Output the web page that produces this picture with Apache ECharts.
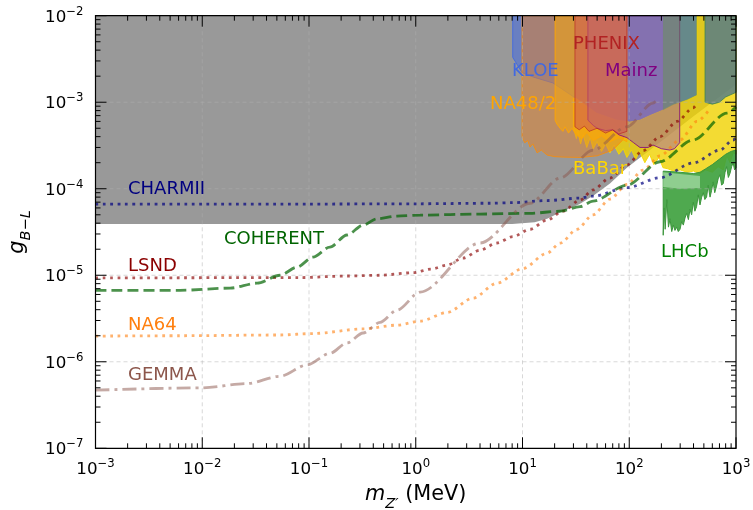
<!DOCTYPE html>
<html><head><meta charset="utf-8">
<script src="https://cdn.jsdelivr.net/npm/echarts@6/dist/echarts.min.js"></script>
<style>html,body{margin:0;padding:0;background:#fff}#c{width:753px;height:510px}</style>
</head><body><div id="c"></div>
<script>
// ---------- axis / tick values ----------
const X_TICKS = [1e-3, 1e-2, 1e-1, 1, 10, 100, 1000];
const Y_TICKS = [1e-7, 1e-6, 1e-5, 1e-4, 1e-3, 1e-2];
const X_MIN = 1e-3, X_MAX = 1e3, Y_MIN = 1e-7, Y_MAX = 1e-2;

// ---------- shaded exclusion regions (lower boundaries, [m_Z' MeV, g]) ----------
const OTHER_BOUND = [[1e-3,3.9e-5],[8,3.9e-5],[13,4.1e-5],[17,4.5e-5],[22.5,5.3e-5],[34,6.6e-5],[46,8.3e-5],[66,1.15e-4],[95,1.75e-4],[207,3.66e-4],[400,6.9e-4],[1000,1.6e-3]];
const KLOE_BOUND = [[8.1,3.3e-3],[9.9,2.2e-3],[12.7,1.95e-3],[19.3,1.67e-3],[31.6,1.11e-3],[49.4,7.45e-4],[76,6.2e-4],[101,5.9e-4],[126,6.2e-4],[156,7.0e-4],[207,8.1e-4],[257,9.3e-4],[348,1.06e-3],[431,1.2e-3]];
const NA48A_BOUND = [[9.9,3.96e-4],[10.5,3.4e-4],[11.2,3.6e-4],[11.75,3.03e-4],[12.5,3.3e-4],[13.7,2.6e-4],[15,2.8e-4],[17,2.45e-4],[20,2.35e-4],[24,2.32e-4],[35,2.3e-4],[50,2.4e-4],[70,2.8e-4],[87,3.66e-4],[95,5.2e-4]];
const NA48B_BOUND = [[20.2,6.2e-4],[21,5.6e-4],[22.5,5.0e-4],[23.9,4.6e-4],[25,5.2e-4],[27,4.4e-4],[29,5.0e-4],[32,4.2e-4],[36,3.8e-4],[40,4.5e-4],[46,3.6e-4],[55,4.1e-4],[66,3.5e-4],[80,3.9e-4],[95,3.5e-4]];
const PHENIX_BOUND = [[31,5.2e-4],[34,4.8e-4],[38,5.3e-4],[42,4.6e-4],[50,5.0e-4],[60,4.4e-4],[70,4.8e-4],[80,4.3e-4],[95,4.6e-4]];
const MAINZ_BOUND = [[41,6.2e-4],[46,5.4e-4],[50,5.0e-4],[60,4.7e-4],[70,4.8e-4],[80,4.2e-4],[95,3.9e-4],[110,3.4e-4],[126,3.0e-4],[150,3.0e-4],[167,3.2e-4],[200,2.9e-4],[240,2.8e-4],[265,2.9e-4],[297,3.4e-4]];
const BABAR_BOUND = [[30,5.0e-4],[32,3.8e-4],[33,4.6e-4],[35,3.3e-4],[37,4.2e-4],[40,3.0e-4],[43,3.9e-4],[46,2.9e-4],[50,3.5e-4],[55,2.7e-4],[60,3.3e-4],[66,2.6e-4],[72,3.2e-4],[80,2.5e-4],[88,2.9e-4],[95,2.3e-4],[105,2.8e-4],[115,2.2e-4],[125,2.7e-4],[140,2.0e-4],[155,2.5e-4],[170,1.9e-4],[190,2.3e-4],[207,1.75e-4],[230,1.7e-4],[260,1.6e-4],[300,1.65e-4],[350,1.55e-4],[400,1.6e-4],[460,1.5e-4],[520,1.65e-4],[600,1.55e-4],[680,1.8e-4],[760,1.65e-4],[820,2.4e-4],[880,2.0e-4],[940,2.6e-4],[1000,2.5e-4]];
const LHCB_LOWER = [[208,2.9e-5],[212,6.0e-5],[217,3.4e-5],[225,7.5e-5],[233,3.6e-5],[241,4.5e-5],[250,3.2e-5],[259,3.8e-5],[268,3.3e-5],[278,3.6e-5],[288,3.2e-5],[299,3.4e-5],[310,4.2e-5],[321,3.8e-5],[333,4.6e-5],[345,5.2e-5],[358,4.4e-5],[371,5.8e-5],[384,5.0e-5],[398,7.0e-5],[412,5.5e-5],[427,6.2e-5],[443,8.5e-5],[460,6.5e-5],[477,8.0e-5],[494,9.0e-5],[511,7.5e-5],[530,8.0e-5],[549,1.1e-4],[571,8.0e-5],[590,9.5e-5],[611,1.2e-4],[632,9.0e-5],[654,1.05e-4],[680,1.3e-4],[708,1.45e-4],[733,1.1e-4],[760,1.15e-4],[790,1.55e-4],[817,1.8e-4],[848,1.35e-4],[878,1.5e-4],[910,1.8e-4],[940,2.0e-4],[970,1.65e-4],[1000,1.75e-4]];
const LHCB_UPPER = [[208,1.6e-4],[300,1.55e-4],[400,1.5e-4],[460,1.55e-4],[520,1.7e-4],[600,1.9e-4],[700,2.2e-4],[800,2.5e-4],[900,2.7e-4],[1000,2.8e-4]];
const LHCB_LIGHT_TOP = [[208,1.55e-4],[300,1.48e-4],[460,1.4e-4]];
const LHCB_LIGHT_BOTTOM = [[208,1.05e-4],[300,1.0e-4],[460,1.02e-4]];
const BAND_BOUND = [[513,1.0e-3],[600,9.5e-4],[700,1.0e-3],[800,1.15e-3],[1000,1.3e-3]];

// ---------- limit curves ----------
const CHARMII = [[1e-3,6.65e-5],[1e-2,6.65e-5],[0.1,6.65e-5],[1,6.7e-5],[5,6.8e-5],[8.1,6.9e-5],[17,7.3e-5],[34.6,7.8e-5],[45.8,8.2e-5],[95,1.03e-4],[194,1.34e-4],[396,1.98e-4],[708,2.8e-4],[938,3.66e-4],[1000,3.9e-4]];
const LSND = [[1e-3,9.3e-6],[0.08,9.4e-6],[0.23,9.8e-6],[0.46,1.0e-5],[0.94,1.07e-5],[1.4,1.18e-5],[1.96,1.31e-5],[2.77,1.58e-5],[4.0,1.95e-5],[5.77,2.36e-5],[8.14,2.8e-5],[11.75,3.4e-5],[17,4.35e-5],[23.9,5.5e-5],[34.6,7.4e-5],[45.8,9.7e-5],[66,1.33e-4],[95,1.88e-4],[134.5,2.75e-4],[194,4.0e-4],[280,6.0e-4],[396,8.6e-4],[431,9.6e-4]];
const COHERENT = [[1e-3,6.7e-6],[6.2e-3,6.7e-6],[0.0182,7.1e-6],[0.0326,8.1e-6],[0.0535,1.0e-5],[0.0772,1.24e-5],[0.109,1.62e-5],[0.157,2.12e-5],[0.227,2.92e-5],[0.321,3.8e-5],[0.434,4.5e-5],[0.667,4.83e-5],[1.1,4.96e-5],[4.0,5.1e-5],[11.75,5.2e-5],[22.5,5.5e-5],[34.6,6.2e-5],[45.8,7.2e-5],[95,1.1e-4],[194,2.05e-4],[396,3.66e-4],[824,7.5e-4],[1000,8.8e-4]];
const NA64 = [[1e-3,1.98e-6],[6.2e-3,2.0e-6],[0.0535,2.04e-6],[0.109,2.12e-6],[0.321,2.4e-6],[0.667,2.65e-6],[1.1,2.95e-6],[1.96,3.7e-6],[3.44,5.45e-6],[5.77,8.1e-6],[10.1,1.2e-5],[17,1.8e-5],[22.5,2.35e-5],[32.4,3.4e-5],[45.8,5.0e-5],[66,7.6e-5],[95,1.12e-4],[134.5,1.64e-4],[194,2.4e-4],[299,3.66e-4],[431,6.0e-4],[571,8.4e-4]];
const GEMMA = [[1e-3,4.7e-7],[0.01,5.0e-7],[0.0262,5.6e-7],[0.0535,6.8e-7],[0.0958,9.2e-7],[0.157,1.25e-6],[0.227,1.65e-6],[0.321,2.15e-6],[0.463,2.85e-6],[0.667,3.95e-6],[1.1,6.4e-6],[4.0,2.36e-5],[11.75,6.8e-5],[22.5,1.33e-4],[45.8,2.8e-4],[95,5.2e-4],[167,9.8e-4],[185,1.08e-3]];

// ---------- helpers ----------
function toTop(bound) {
  return [[bound[0][0], Y_MAX]].concat(bound, [[bound[bound.length - 1][0], Y_MAX]]);
}
function region(name, pts, fill, stroke, z) {
  return {
    type: 'custom', name: name, coordinateSystem: 'cartesian2d', silent: true, z: z,
    data: pts, encode: { x: 0, y: 1 },
    renderItem: function (params, api) {
      if (params.dataIndex !== 0) return null;
      return { type: 'polygon', shape: { points: pts.map(function (p) { return api.coord(p); }) },
        style: { fill: fill, stroke: stroke || null, lineWidth: 1 } };
    }
  };
}
function curve(name, pts, color, dash, z) {
  return { type: 'line', name: name, data: pts, showSymbol: false, symbol: 'none', silent: true, z: z,
    smooth: 0.3, smoothMonotone: 'x', clip: true,
    lineStyle: { color: color, width: 2.8, type: dash, cap: 'butt' } };
}
function powLabel(v) {
  const e = Math.round(Math.log10(v));
  return '{b|10}{s|' + (e < 0 ? '\u2212' : '') + Math.abs(e) + '}';
}
const FONT = 'DejaVu Sans';
const tickRich = {
  b: { fontSize: 16.7, fontFamily: FONT, color: '#000', verticalAlign: 'bottom' },
  s: { fontSize: 11.7, fontFamily: FONT, color: '#000', verticalAlign: 'bottom', padding: [0, 0, 8, 0] }
};
function minorVals(lo, hi) {
  const out = [];
  for (let k = lo; k < hi; k++) for (let d = 2; d <= 9; d++) out.push(d * Math.pow(10, k));
  return out;
}

// polygons
const kloePoly = toTop(KLOE_BOUND);
const babarUpper = KLOE_BOUND.filter(function (p) { return p[0] >= 30; }).slice().reverse();
const babarPoly = [[30, babarUpper[babarUpper.length - 1][1]]].concat(BABAR_BOUND, [[1000, Y_MAX], [431, Y_MAX]], babarUpper);
const lhcbPoly = LHCB_UPPER.slice().reverse().concat(LHCB_LOWER);
const lhcbLightPoly = LHCB_LIGHT_TOP.concat(LHCB_LIGHT_BOTTOM.slice().reverse());
const band1Poly = toTop(KLOE_BOUND.filter(function (p) { return p[0] >= 207; }));

const series = [
  region('other', toTop(OTHER_BOUND), '#999999', null, 1),
  region('KLOE', kloePoly, 'rgba(65,105,225,0.55)', 'rgba(65,105,225,0.9)', 2),
  region('BaBar', babarPoly, 'rgba(240,210,0,0.8)', 'rgba(245,215,0,0.9)', 3),
  region('LHCb', lhcbPoly, 'rgba(60,160,60,0.9)', 'rgba(60,150,60,1)', 3.2),
  region('LHCbLight', lhcbLightPoly, 'rgba(150,210,150,0.9)', null, 3.3),
  region('NA48A', toTop(NA48A_BOUND), 'rgba(230,130,40,0.5)', 'rgba(255,140,0,0.8)', 4),
  region('NA48B', toTop(NA48B_BOUND), 'rgba(255,170,0,0.5)', 'rgba(255,165,0,0.9)', 4.1),
  region('Mainz', toTop(MAINZ_BOUND), 'rgba(160,100,160,0.5)', 'rgba(128,0,128,0.8)', 4.5),
  region('PHENIX', toTop(PHENIX_BOUND), 'rgba(210,95,80,0.6)', 'rgba(178,34,34,0.6)', 5),
  region('band1', band1Poly, 'rgba(100,150,70,0.45)', null, 5.2),
  region('band2', toTop(BAND_BOUND), 'rgba(80,120,140,0.8)', 'rgba(60,130,80,0.8)', 5.3),
  {
    type: 'custom', coordinateSystem: 'cartesian2d', silent: true, z: 6, data: [[1, 1e-4]], encode: { x: 0, y: 1 },
    renderItem: function (params, api) {
      const bl = api.coord([X_MIN, Y_MIN]), tr = api.coord([X_MAX, Y_MAX]);
      const st = { stroke: 'rgba(176,176,176,0.55)', lineWidth: 0.9, lineDash: [4, 3] };
      const ch = [];
      X_TICKS.slice(1, -1).forEach(function (v) { const p = api.coord([v, Y_MIN]);
        ch.push({ type: 'line', shape: { x1: p[0], y1: bl[1], x2: p[0], y2: tr[1] }, style: st }); });
      Y_TICKS.slice(1, -1).forEach(function (v) { const p = api.coord([X_MIN, v]);
        ch.push({ type: 'line', shape: { x1: bl[0], y1: p[1], x2: tr[0], y2: p[1] }, style: st }); });
      return { type: 'group', children: ch };
    }
  },
  curve('CHARMII', CHARMII, 'rgba(0,0,128,0.7)', [2.8, 4.6], 7),
  curve('LSND', LSND, 'rgba(139,0,0,0.65)', [2.8, 4.6], 7),
  curve('NA64', NA64, 'rgba(255,127,14,0.6)', [2.8, 4.6], 7),
  curve('COHERENT', COHERENT, 'rgba(0,100,0,0.7)', [11, 5], 7),
  curve('GEMMA', GEMMA, 'rgba(140,86,75,0.5)', [14, 5, 3, 5], 7),
  {
    type: 'custom', coordinateSystem: 'cartesian2d', silent: true, z: 20, data: [[1, 1e-4]], encode: { x: 0, y: 1 },
    renderItem: function (params, api) {
      const bl = api.coord([X_MIN, Y_MIN]), tr = api.coord([X_MAX, Y_MAX]);
      const ch = [];
      const st = { stroke: '#000', lineWidth: 1 };
      function xt(v, len) { const p = api.coord([v, Y_MIN]);
        ch.push({ type: 'line', shape: { x1: p[0], y1: bl[1], x2: p[0], y2: bl[1] - len }, style: st });
        ch.push({ type: 'line', shape: { x1: p[0], y1: tr[1], x2: p[0], y2: tr[1] + len }, style: st }); }
      function yt(v, len) { const p = api.coord([X_MIN, v]);
        ch.push({ type: 'line', shape: { x1: bl[0], y1: p[1], x2: bl[0] + len, y2: p[1] }, style: st });
        ch.push({ type: 'line', shape: { x1: tr[0], y1: p[1], x2: tr[0] - len, y2: p[1] }, style: st }); }
      X_TICKS.forEach(function (v) { xt(v, 11); });
      Y_TICKS.forEach(function (v) { yt(v, 11); });
      minorVals(-3, 3).forEach(function (v) { xt(v, 5); });
      minorVals(-7, -2).forEach(function (v) { yt(v, 5); });
      ch.push({ type: 'rect', shape: { x: bl[0], y: tr[1], width: tr[0] - bl[0], height: bl[1] - tr[1] },
        style: { fill: null, stroke: '#000', lineWidth: 1.2 } });
      return { type: 'group', children: ch };
    }
  }
];

function lbl(text, x, y, color) {
  return { type: 'text', x: x, y: y, z: 30, silent: true,
    style: { text: text, fill: color, font: '18px "DejaVu Sans"', align: 'left', verticalAlign: 'middle' } };
}

const option = {
  animation: false,
  backgroundColor: '#fff',
  grid: { left: 95.5, right: 17, top: 15.7, bottom: 61.7, containLabel: false, outerBoundsMode: 'none' },
  xAxis: {
    type: 'log', logBase: 10, min: X_MIN, max: X_MAX, splitNumber: 6,
    axisLine: { show: false }, axisTick: { show: false }, splitLine: { show: false }, minorTick: { show: false },
    axisLabel: { formatter: powLabel, rich: tickRich, margin: 10, color: '#000', showMinLabel: true, showMaxLabel: true },
    name: '{i|m}{s|Z\u2032}{n| (MeV)}', nameLocation: 'middle', nameGap: 36,
    nameTextStyle: { color: '#000', rich: {
      i: { fontSize: 20.8, fontStyle: 'italic', fontFamily: FONT, color: '#000', verticalAlign: 'bottom', padding: [0, 0, 6, 0] },
      s: { fontSize: 14.6, fontStyle: 'italic', fontFamily: FONT, color: '#000', verticalAlign: 'bottom' },
      n: { fontSize: 20.8, fontFamily: FONT, color: '#000', verticalAlign: 'bottom', padding: [0, 0, 6, 0] } } }
  },
  yAxis: {
    type: 'log', logBase: 10, min: Y_MIN, max: Y_MAX, splitNumber: 5,
    axisLine: { show: false }, axisTick: { show: false }, splitLine: { show: false }, minorTick: { show: false },
    axisLabel: { formatter: powLabel, rich: tickRich, margin: 12, color: '#000', showMinLabel: true, showMaxLabel: true },
    name: '{i|g}{s|B\u2212L}', nameLocation: 'middle', nameGap: 58, nameRotate: 90,
    nameTextStyle: { color: '#000', rich: {
      i: { fontSize: 20.8, fontStyle: 'italic', fontFamily: FONT, color: '#000', verticalAlign: 'bottom', padding: [0, 0, 6, 0] },
      s: { fontSize: 14.6, fontStyle: 'italic', fontFamily: FONT, color: '#000', verticalAlign: 'bottom' } } }
  },
  series: series,
  graphic: [
    lbl('PHENIX', 573, 44, '#b22222'),
    lbl('KLOE', 512, 71, '#4169e1'),
    lbl('Mainz', 605, 71, '#800080'),
    lbl('NA48/2', 490, 104, '#ffa500'),
    lbl('BaBar', 573, 169, '#ffd700'),
    lbl('CHARMII', 128, 189, '#000080'),
    lbl('COHERENT', 224, 239, '#006400'),
    lbl('LSND', 128, 266, '#8b0000'),
    lbl('LHCb', 661, 252, '#008000'),
    lbl('NA64', 128, 325, '#ff7f0e'),
    lbl('GEMMA', 128, 375, '#8c564b')
  ]
};

const chart = echarts.init(document.getElementById('c'));
chart.setOption(option);
</script>
</body></html>
